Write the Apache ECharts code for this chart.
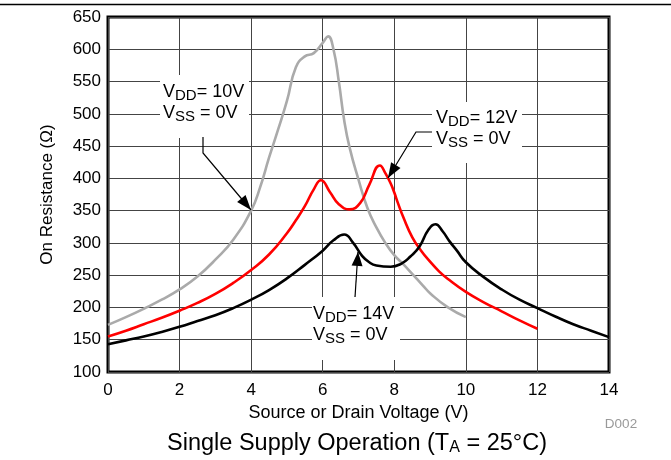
<!DOCTYPE html>
<html>
<head>
<meta charset="utf-8">
<script src="https://cdn.jsdelivr.net/npm/echarts@6/dist/echarts.min.js"></script>
<style>
html,body{margin:0;padding:0;background:#fff;}
#c{width:671px;height:460px;}
</style>
</head>
<body>
<div id="c"></div>
<script>
// ---- data ----
const vdd10X = [0, 0.5, 1, 1.5, 2, 2.5, 3, 3.5, 4, 4.25, 4.5, 4.75, 5, 5.25, 5.5, 5.75, 6, 6.15, 6.3, 6.45, 6.6, 6.75, 7, 7.25, 7.5, 7.75, 8, 8.25, 8.5, 8.8, 9, 9.5, 10];
const vdd10Y = [173, 185, 198, 212, 228, 248, 274, 305, 350, 386, 432, 475, 520, 572, 589, 594, 610, 620, 600, 550, 490, 448, 398, 354, 324, 300, 281, 267, 252, 234, 222, 200, 185];

const vdd12X = [0, 0.5, 1, 1.5, 2, 2.5, 3, 3.5, 4, 4.5, 5, 5.25, 5.5, 5.75, 5.95, 6.2, 6.45, 6.75, 7.05, 7.3, 7.6, 7.75, 7.9, 8, 8.1, 8.25, 8.5, 8.75, 9, 9.25, 9.5, 10, 10.5, 11, 11.5, 12];
const vdd12Y = [155, 164, 174, 184, 195, 207, 221, 238, 258, 282, 315, 335, 357, 383, 397, 379, 360, 352, 362, 390, 420, 408, 392, 378, 362, 340, 309, 288, 271, 256, 244, 224, 208, 194, 180, 167];

const vdd14X = [0, 0.5, 1, 1.5, 2, 2.5, 3, 3.5, 4, 4.5, 5, 5.5, 6, 6.3, 6.6, 6.85, 7.1, 7.3, 7.5, 7.9, 8.2, 8.45, 8.7, 8.95, 9.15, 9.35, 9.55, 9.75, 10, 10.5, 11, 11.5, 12, 12.5, 13, 13.5, 14];
const vdd14Y = [143, 149, 155, 162, 170, 179, 188, 199, 212, 227, 245, 266, 288, 304, 313, 300, 280, 270, 265, 263, 268, 279, 294, 320, 329, 318, 302, 288, 270, 247, 228, 212, 199, 186, 174, 164, 154];

const xMin = 0, xMax = 14, xStep = 2;
const yMin = 100, yMax = 650, yStep = 50;

const xAxisName = 'Source or Drain Voltage (V)';
const yAxisName = 'On Resistance (\u03A9)';

function pairs(xs, ys){ return xs.map((x,i)=>[x, ys[i]]); }

const FONT = '"Liberation Sans", Arial, sans-serif';

const chart = echarts.init(document.getElementById('c'), null, {renderer:'canvas'});

function arrowHead(tip, from, len, half){
  const dx = tip[0]-from[0], dy = tip[1]-from[1];
  const L = Math.sqrt(dx*dx+dy*dy);
  const ux = dx/L, uy = dy/L;
  const bx = tip[0]-ux*len, by = tip[1]-uy*len;
  return [tip, [bx - uy*half, by + ux*half], [bx + uy*half, by - ux*half]];
}

function label(x, y, v1, v2){
  return {
    type:'text', left:x, top:y, z:200,
    style:{
      text: 'V{s|DD}= ' + v1 + '\nV{s|SS} = ' + v2,
      font: '18px ' + FONT,
      fill:'#000',
      lineHeight: 21,
      rich:{ s:{ fontSize:15, fontFamily:FONT, padding:[6,0,0,0], lineHeight:21 } }
    }
  };
}
function box(x,y,w,h){
  return {type:'rect', shape:{x:x,y:y,width:w,height:h}, style:{fill:'#fff'}, z:150};
}
function arrow(points, len, half){
  const tip = points[points.length-1];
  const prev = points[points.length-2];
  const head = arrowHead(tip, prev, len, half);
  return [
    {type:'polyline', shape:{points:points}, style:{stroke:'#000', lineWidth:1.2, fill:null}, z:160},
    {type:'polygon', shape:{points:head}, style:{fill:'#000'}, z:161}
  ];
}

const graphics = [
  {type:'line', shape:{x1:0,y1:4.5,x2:671,y2:4.5}, style:{stroke:'#000', lineWidth:1.6}, z:100},
  box(160,75,89,63), label(163,82,'10V','0V'),
  box(432,102,90,61), label(436,108,'12V','0V'),
  box(312,297,88,63), label(313,304,'14V','0V'),
  ...arrow([[203,137],[203,153],[251,210]], 15, 5.5),
  ...arrow([[432,132],[416,132],[388,178]], 15, 5.5),
  ...arrow([[355,297],[358,252]], 14, 5.5),
  {type:'text', x:357, y:444, z:200,
    style:{
      text:'Single Supply Operation (T{s|A} = 25\u00B0C)',
      font:'23.5px '+FONT, fill:'#000', align:'center', verticalAlign:'middle',
      rich:{ s:{fontSize:16, fontFamily:FONT, padding:[8,0,0,0]} }
    }},
  {type:'text', x:621, y:424, z:200,
    style:{text:'D002', font:'13.5px '+FONT, fill:'#999', align:'center', verticalAlign:'middle'}}
];

const option = {
  animation:false,
  backgroundColor:'#fff',
  grid:{left:108, top:17, width:501, height:355, show:true, borderColor:'#000', borderWidth:3, containLabel:false},
  xAxis:{
    type:'value', min:xMin, max:xMax, interval:xStep,
    name:xAxisName, nameLocation:'middle', nameGap:31,
    nameTextStyle:{fontFamily:FONT, fontSize:18, color:'#000'},
    axisLine:{show:false}, axisTick:{show:false},
    axisLabel:{fontFamily:FONT, fontSize:17, color:'#000', margin:10},
    splitLine:{show:true, lineStyle:{color:'#444', width:1}}
  },
  yAxis:{
    type:'value', min:yMin, max:yMax, interval:yStep,
    name:yAxisName, nameLocation:'middle', nameGap:52, nameRotate:90,
    nameTextStyle:{fontFamily:FONT, fontSize:17, color:'#000'},
    axisLine:{show:false}, axisTick:{show:false},
    axisLabel:{fontFamily:FONT, fontSize:17, color:'#000', margin:7},
    splitLine:{show:true, lineStyle:{color:'#444', width:1}}
  },
  series:[
    {type:'line', name:'VDD=10V', data:pairs(vdd10X,vdd10Y), smooth:0.5, showSymbol:false,
      lineStyle:{color:'#aaaaaa', width:2.6}, z:3},
    {type:'line', name:'VDD=12V', data:pairs(vdd12X,vdd12Y), smooth:0.5, showSymbol:false,
      lineStyle:{color:'#ff0000', width:2.6}, z:4},
    {type:'line', name:'VDD=14V', data:pairs(vdd14X,vdd14Y), smooth:0.5, showSymbol:false,
      lineStyle:{color:'#000000', width:2.6}, z:5}
  ],
  graphic:graphics
};
chart.setOption(option);
</script>
</body>
</html>
